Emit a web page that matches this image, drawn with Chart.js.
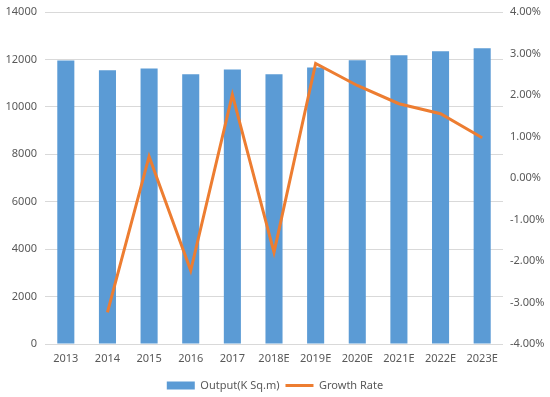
<!DOCTYPE html>
<html>
<head>
<meta charset="utf-8">
<script src="https://cdn.jsdelivr.net/npm/chart.js@4"></script>
<style>
  html, body { margin: 0; padding: 0; background: #fff; }
  #wrap { width: 550px; height: 397px; }
</style>
</head>
<body>
<div id="wrap"><canvas id="chart"></canvas></div>
<script>
// Output and growth rate, 2013-2023E
const years = ['2013', '2014', '2015', '2016', '2017', '2018E', '2019E', '2020E', '2021E', '2022E', '2023E'];
const output = [11950, 11540, 11620, 11370, 11580, 11370, 11660, 11970, 12180, 12340, 12470];
const growthRate = [null, -3.24, 0.52, -2.23, 2.01, -1.79, 2.76, 2.23, 1.79, 1.55, 0.97];
const leftTicks = [0, 2000, 4000, 6000, 8000, 10000, 12000, 14000];
const rightTicks = [-4, -3, -2, -1, 0, 1, 2, 3, 4];

const textColor = '#595959';
const gridColor = '#d9d9d9';

Chart.defaults.font.family = '"Noto Sans", sans-serif';
Chart.defaults.font.size = 11;
Chart.defaults.color = textColor;

// keep the top label from pushing the plot area down
const fitY = (w) => (scale) => {
    scale.width = w;
    scale.paddingTop = 2;
};

const ctx = document.getElementById('chart').getContext('2d');
new Chart(ctx, {
    data: {
        labels: years,
        datasets: [
            {
                type: 'line',
                label: 'Growth Rate',
                data: growthRate,
                yAxisID: 'y1',
                borderColor: '#ed7d31',
                backgroundColor: '#ed7d31',
                borderWidth: 3,
                pointRadius: 0,
                tension: 0,
                pointStyle: 'line',
                order: 0
            },
            {
                type: 'bar',
                label: 'Output(K Sq.m)',
                data: output,
                yAxisID: 'y',
                backgroundColor: '#5b9bd5',
                borderWidth: 0,
                categoryPercentage: 1,
                barPercentage: 0.41,
                pointStyle: 'rect',
                order: 1
            }
        ]
    },
    options: {
        responsive: true,
        maintainAspectRatio: false,
        animation: false,
        layout: { padding: { top: 12, bottom: -4 } },
        plugins: {
            tooltip: { enabled: false },
            legend: {
                position: 'bottom',
                reverse: true,
                labels: {
                    usePointStyle: true,
                    pointStyleWidth: 28,
                    boxHeight: 8,
                    padding: 6,
                    color: textColor
                }
            }
        },
        scales: {
            x: {
                grid: { display: false, drawTicks: false },
                border: { display: false },
                afterFit: (scale) => { scale.height = 30; },
                ticks: { color: textColor, padding: 8, maxRotation: 0, autoSkip: false }
            },
            y: {
                position: 'left',
                min: 0,
                max: 14000,
                afterBuildTicks: (scale) => { scale.ticks = leftTicks.map(v => ({ value: v })); },
                afterFit: fitY(45),
                grid: { color: gridColor, drawTicks: false },
                border: { display: false },
                ticks: { color: textColor, padding: 8, callback: (v) => String(v) }
            },
            y1: {
                position: 'right',
                min: -4,
                max: 4,
                afterBuildTicks: (scale) => { scale.ticks = rightTicks.map(v => ({ value: v })); },
                afterFit: fitY(47),
                grid: { display: false, drawTicks: false },
                border: { display: false },
                ticks: { color: textColor, padding: 7, callback: (v) => v.toFixed(2) + '%' }
            }
        }
    }
});
</script>
</body>
</html>
